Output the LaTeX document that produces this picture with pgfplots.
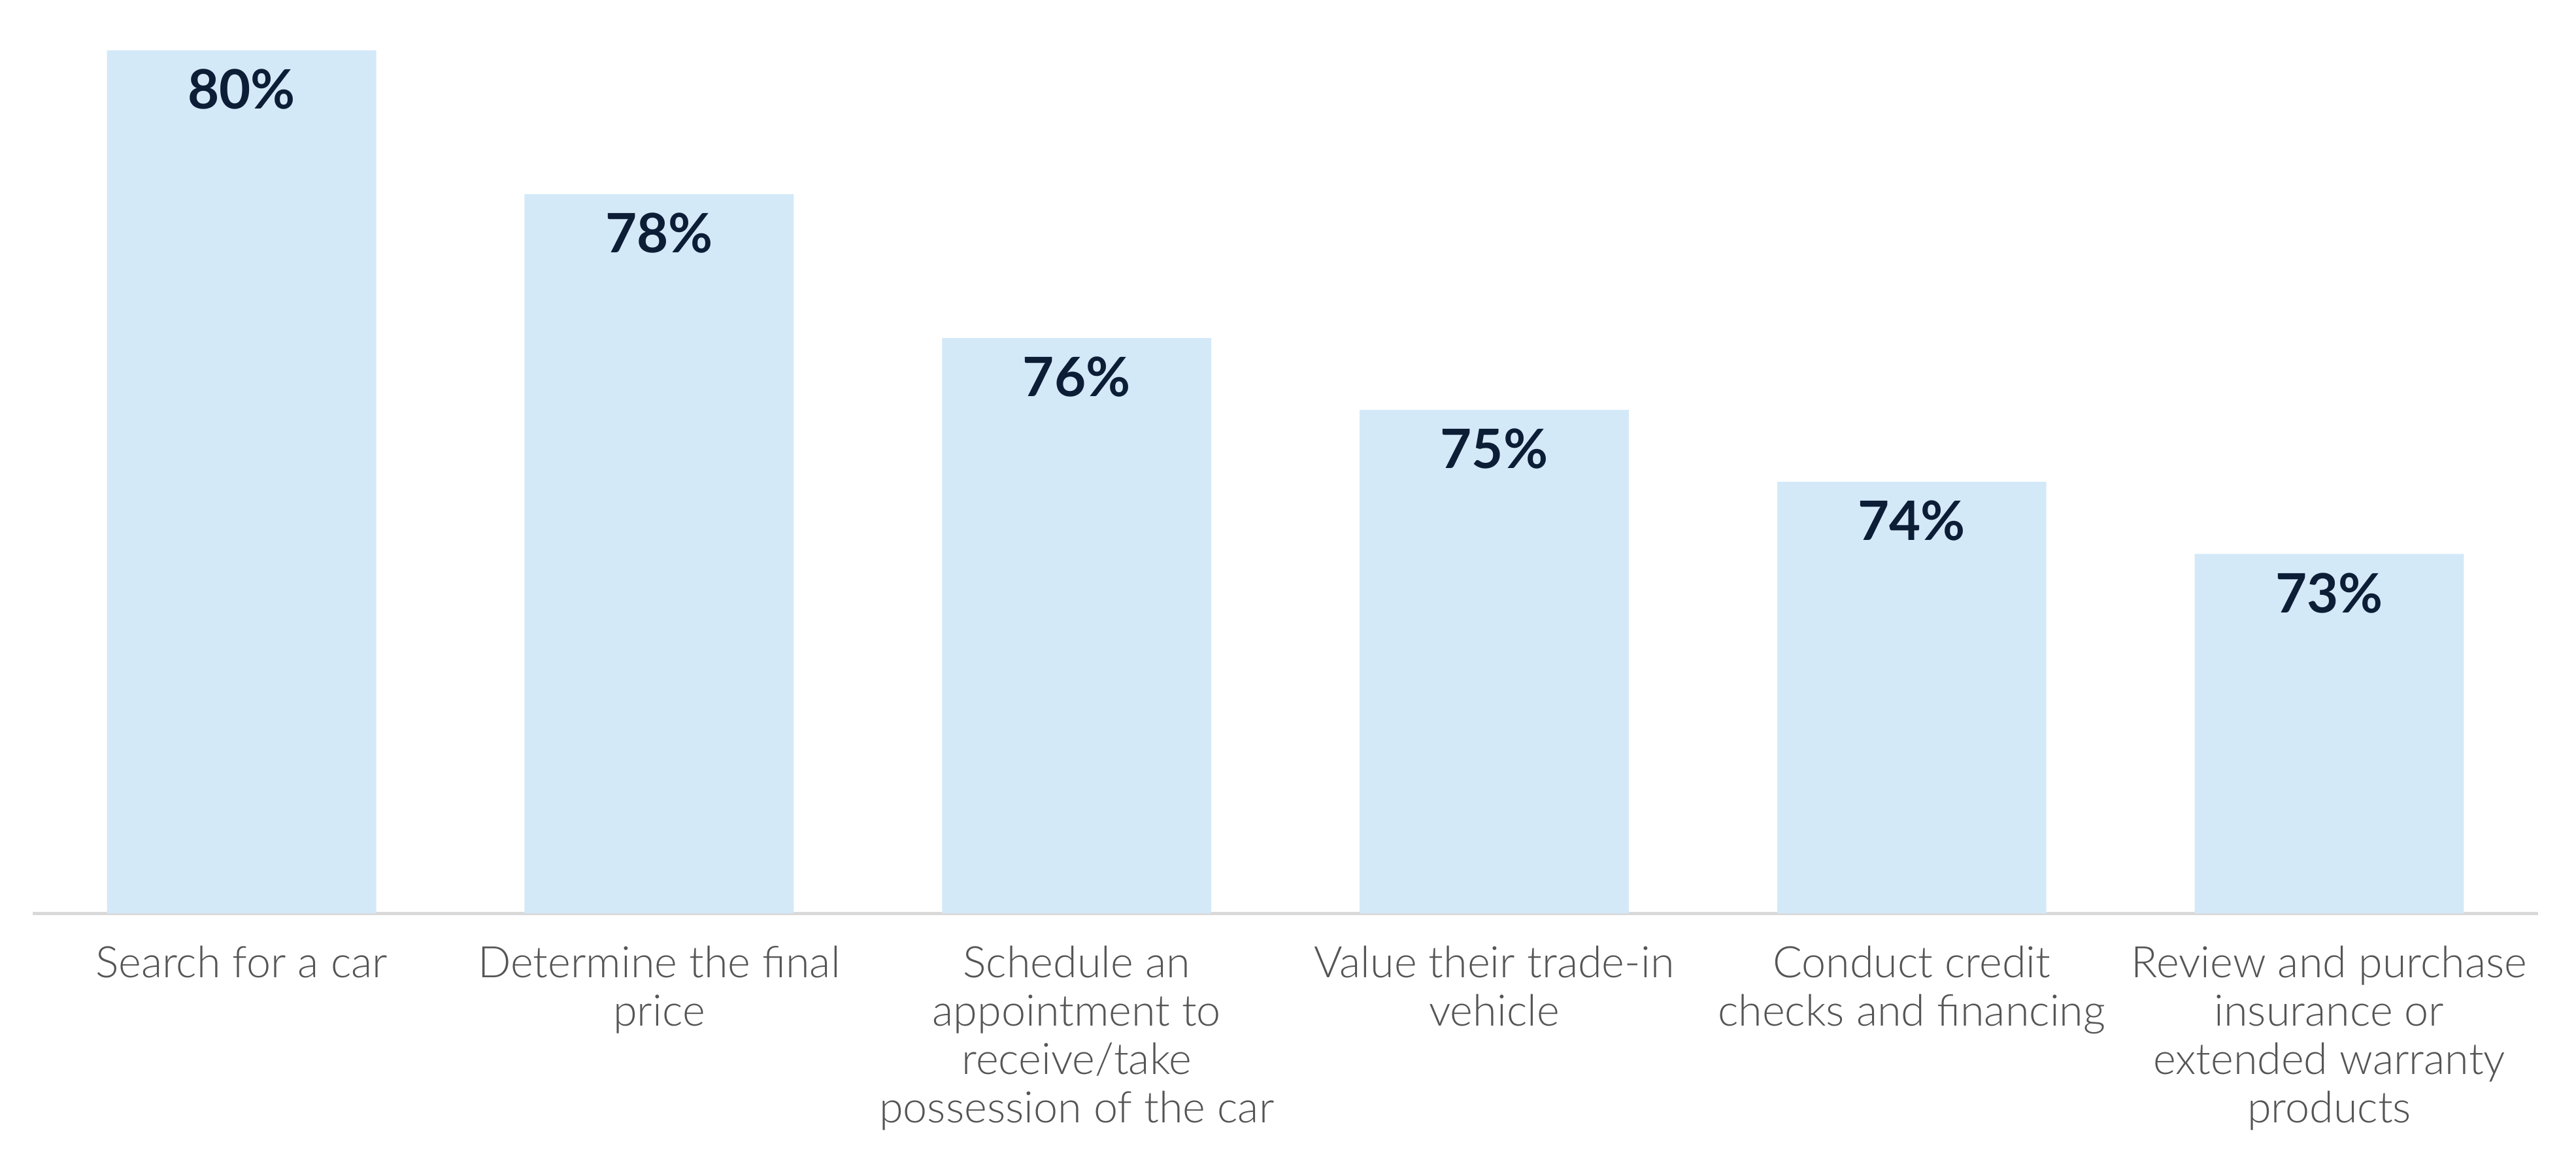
\documentclass[border=0pt]{standalone}
\usepackage{fontspec}
\setmainfont{Lato}
\newfontfamily\latolight{Lato Light}
\usepackage{pgfplots}
\pgfplotsset{compat=1.18}

\definecolor{barblue}{HTML}{D4E9F8}
\definecolor{labelnavy}{HTML}{0C1D36}
\definecolor{tickgray}{HTML}{555555}
\definecolor{axisgray}{HTML}{D9D9D9}

\begin{document}
\begin{tikzpicture}
\useasboundingbox (-0.255cm,-1.888cm) rectangle (19.745cm,7.092cm);
\begin{axis}[
    scale only axis,
    width=19.45cm,
    height=7.092cm,
    xmin=-0.5, xmax=5.5,
    ymin=68, ymax=80.7,
    axis x line=bottom,
    axis y line=none,
    axis line style={draw=axisgray, line width=0.8pt, -},
    ytick=\empty,
    xtick=data,
    major tick length=0pt,
    /pgf/number format/assume math mode=true,
    xticklabels={
        Search for a car,
        Determine the final\\price,
        Schedule an\\appointment to\\receive/take\\possession of the car,
        Value their trade-in\\vehicle,
        Conduct credit\\checks and financing,
        Review and purchase\\insurance or\\extended warranty\\products},
    xticklabel style={align=center, font=\latolight\fontsize{9.6}{10.65}\selectfont,
        text=tickgray, anchor=north, yshift=-0.13cm},
    ybar,
    bar width=2.09cm,
    nodes near coords={\pgfmathprintnumber[fixed,precision=0]{\pgfplotspointmeta}\%},
    every node near coord/.append style={anchor=north, inner sep=0pt,
        yshift=-0.14cm, font=\bfseries\fontsize{12}{13}\selectfont,
        text=labelnavy},
]
% share of shoppers per step
\addplot[fill=barblue, draw=none] coordinates {
    (0,80) (1,78) (2,76) (3,75) (4,74) (5,73)
};
\end{axis}
\end{tikzpicture}
\end{document}
